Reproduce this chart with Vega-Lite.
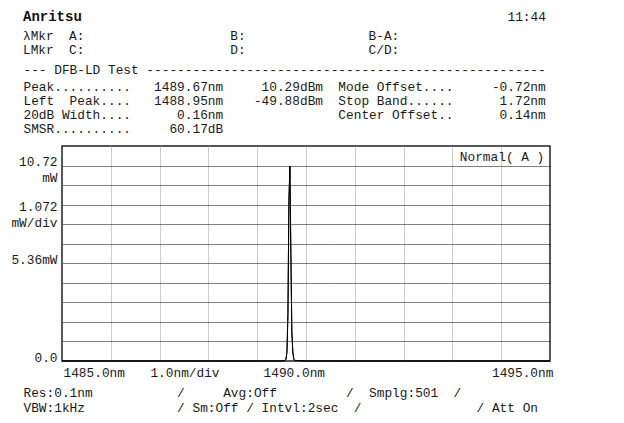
{
  "$schema": "https://vega.github.io/schema/vega-lite/v6.json",
  "width": 488,
  "height": 215,
  "autosize": "none",
  "padding": {"left": 62, "top": 146, "right": 74, "bottom": 62},
  "background": "white",
  "title": {
    "text": "Anritsu",
    "subtitle": [
      "λMkr\u00a0\u00a0A:\u00a0\u00a0\u00a0\u00a0\u00a0\u00a0\u00a0\u00a0\u00a0\u00a0\u00a0\u00a0\u00a0\u00a0\u00a0\u00a0\u00a0\u00a0\u00a0B:\u00a0\u00a0\u00a0\u00a0\u00a0\u00a0\u00a0\u00a0\u00a0\u00a0\u00a0\u00a0\u00a0\u00a0\u00a0\u00a0B-A:",
      "LMkr\u00a0\u00a0C:\u00a0\u00a0\u00a0\u00a0\u00a0\u00a0\u00a0\u00a0\u00a0\u00a0\u00a0\u00a0\u00a0\u00a0\u00a0\u00a0\u00a0\u00a0\u00a0D:\u00a0\u00a0\u00a0\u00a0\u00a0\u00a0\u00a0\u00a0\u00a0\u00a0\u00a0\u00a0\u00a0\u00a0\u00a0\u00a0C/D:"
    ],
    "anchor": "start",
    "frame": "group",
    "dx": -39,
    "offset": -47,
    "font": "Liberation Mono",
    "fontSize": 14,
    "fontWeight": "bold",
    "color": "#111111",
    "subtitleFont": "Liberation Mono",
    "subtitleFontSize": 12.8,
    "subtitleLineHeight": 14,
    "subtitleColor": "#1a1a1a",
    "subtitlePadding": 6
  },
  "data": {
    "values": [
      {"wl": 1485.0, "p": 0, "trace": "Normal( A )"},
      {"wl": 1486.5, "p": 0, "trace": "Normal( A )"},
      {"wl": 1488.0, "p": 0, "trace": "Normal( A )"},
      {"wl": 1488.95, "p": 0.00001, "trace": "Normal( A )"},
      {"wl": 1489.5, "p": 0, "trace": "Normal( A )"},
      {"wl": 1489.57, "p": 0.03, "trace": "Normal( A )"},
      {"wl": 1489.59, "p": 0.1, "trace": "Normal( A )"},
      {"wl": 1489.61, "p": 0.5, "trace": "Normal( A )"},
      {"wl": 1489.63, "p": 2.6, "trace": "Normal( A )"},
      {"wl": 1489.65, "p": 8.8, "trace": "Normal( A )"},
      {"wl": 1489.67, "p": 10.69, "trace": "Normal( A )"},
      {"wl": 1489.69, "p": 5.9, "trace": "Normal( A )"},
      {"wl": 1489.71, "p": 1.6, "trace": "Normal( A )"},
      {"wl": 1489.73, "p": 0.5, "trace": "Normal( A )"},
      {"wl": 1489.75, "p": 0.1, "trace": "Normal( A )"},
      {"wl": 1489.77, "p": 0.03, "trace": "Normal( A )"},
      {"wl": 1490.0, "p": 0, "trace": "Normal( A )"},
      {"wl": 1492.0, "p": 0, "trace": "Normal( A )"},
      {"wl": 1495.0, "p": 0, "trace": "Normal( A )"}
    ]
  },
  "layer": [
    {
      "mark": {"type": "line", "color": "#000000", "strokeWidth": 1},
      "encoding": {
        "x": {
          "field": "wl", "type": "quantitative",
          "scale": {"domain": [1485, 1495], "nice": false, "zero": false},
          "axis": {
            "orient": "top",
            "values": [1486, 1487, 1488, 1489, 1490, 1491, 1492, 1493, 1494],
            "grid": true, "gridColor": "#999999", "gridDash": [1, 1], "gridWidth": 1, "gridOpacity": 1,
            "labels": false, "ticks": false, "domain": false,
            "title": "--- DFB-LD Test ----------------------------------------------------",
            "titleX": -39, "titleY": -72.5, "titleAlign": "left", "titleBaseline": "alphabetic", "titleAngle": 0
          }
        },
        "y": {
          "field": "p", "type": "quantitative",
          "scale": {"domain": [0, 11.792], "nice": false, "zero": true},
          "axis": {
            "orient": "right",
            "values": [1.072, 2.144, 3.216, 4.288, 5.36, 6.432, 7.504, 8.576, 9.648, 10.72],
            "grid": true, "gridColor": "#000000", "gridDash": [1, 1], "gridWidth": 1, "gridOpacity": 1,
            "labels": false, "ticks": false, "domain": false,
            "title": "11:44",
            "titleX": -43, "titleY": -126, "titleAlign": "left", "titleBaseline": "alphabetic", "titleAngle": 0
          }
        }
      }
    },
    {
      "mark": {"type": "line", "strokeWidth": 1},
      "encoding": {
        "x": {
          "field": "wl", "type": "quantitative",
          "scale": {"domain": [1485, 1495], "nice": false, "zero": false},
          "axis": {
            "orient": "bottom",
            "values": [1485.65, 1487.51, 1489.75, 1494.43],
            "labelExpr": "datum.value < 1486 ? '1485.0nm' : datum.value < 1488.5 ? '1.0nm/div' : datum.value < 1492 ? '1490.0nm' : '1495.0nm'",
            "labelOverlap": false, "labelBound": false, "labelFlush": false,
            "labelPadding": 5, "labelAlign": "center", "labelBaseline": "top",
            "grid": false, "ticks": false, "domain": false,
            "title": [
              "Res:0.1nm\u00a0\u00a0\u00a0\u00a0\u00a0\u00a0\u00a0\u00a0\u00a0\u00a0\u00a0/\u00a0\u00a0\u00a0\u00a0\u00a0Avg:Off\u00a0\u00a0\u00a0\u00a0\u00a0\u00a0\u00a0\u00a0\u00a0/\u00a0\u00a0Smplg:501\u00a0\u00a0/",
              "VBW:1kHz\u00a0\u00a0\u00a0\u00a0\u00a0\u00a0\u00a0\u00a0\u00a0\u00a0\u00a0\u00a0/ Sm:Off / Intvl:2sec\u00a0\u00a0/\u00a0\u00a0\u00a0\u00a0\u00a0\u00a0\u00a0\u00a0\u00a0\u00a0\u00a0\u00a0\u00a0\u00a0\u00a0/ Att On"
            ],
            "titleX": -39, "titleY": 35, "titleAlign": "left", "titleBaseline": "alphabetic", "titleAngle": 0,
            "titleLineHeight": 15
          }
        },
        "y": {
          "field": "p", "type": "quantitative",
          "scale": {"domain": [0, 11.792], "nice": false, "zero": true},
          "axis": {
            "orient": "left",
            "values": [0, 5.36, 8.23, 10.72],
            "labelExpr": "datum.value > 10 ? ['10.72', 'mW'] : datum.value > 7 ? ['1.072\u00a0', 'mW/div'] : datum.value > 5 ? '5.36mW' : '0.0'",
            "labelOverlap": false, "labelBound": false, "labelFlush": false,
            "labelPadding": 5, "labelAlign": "right", "labelBaseline": "alphabetic", "labelLineHeight": 15.5,
            "grid": false, "ticks": false, "domain": false,
            "title": [
              "Peak..........\u00a0\u00a0\u00a01489.67nm\u00a0\u00a0\u00a0\u00a0\u00a010.29dBm\u00a0\u00a0Mode Offset....\u00a0\u00a0\u00a0\u00a0\u00a0-0.72nm",
              "Left\u00a0\u00a0Peak....\u00a0\u00a0\u00a01488.95nm\u00a0\u00a0\u00a0\u00a0-49.88dBm\u00a0\u00a0Stop Band......\u00a0\u00a0\u00a0\u00a0\u00a0\u00a01.72nm",
              "20dB Width....\u00a0\u00a0\u00a0\u00a0\u00a0\u00a00.16nm\u00a0\u00a0\u00a0\u00a0\u00a0\u00a0\u00a0\u00a0\u00a0\u00a0\u00a0\u00a0\u00a0\u00a0\u00a0Center Offset..\u00a0\u00a0\u00a0\u00a0\u00a0\u00a00.14nm",
              "SMSR..........\u00a0\u00a0\u00a0\u00a0\u00a060.17dB"
            ],
            "titleX": -39, "titleY": -56, "titleAlign": "left", "titleBaseline": "alphabetic", "titleAngle": 0,
            "titleLineHeight": 14
          }
        },
        "color": {
          "field": "trace", "type": "nominal",
          "scale": {"range": ["#000000"]},
          "legend": {
            "orient": "none", "legendX": 385, "legendY": 5,
            "title": null, "padding": 0,
            "symbolSize": 0, "symbolStrokeWidth": 0, "symbolOpacity": 0, "labelOffset": 0,
            "labelFont": "Liberation Mono", "labelFontSize": 12.8, "labelColor": "#1a1a1a"
          }
        }
      }
    }
  ],
  "resolve": {"axis": {"x": "independent", "y": "independent"}},
  "config": {
    "view": {"stroke": "#222222", "strokeWidth": 1.5},
    "font": "Liberation Mono",
    "axis": {
      "labelFont": "Liberation Mono", "labelFontSize": 12.8, "labelColor": "#1a1a1a",
      "titleFont": "Liberation Mono", "titleFontSize": 12.8, "titleFontWeight": "normal", "titleColor": "#1a1a1a"
    }
  }
}
